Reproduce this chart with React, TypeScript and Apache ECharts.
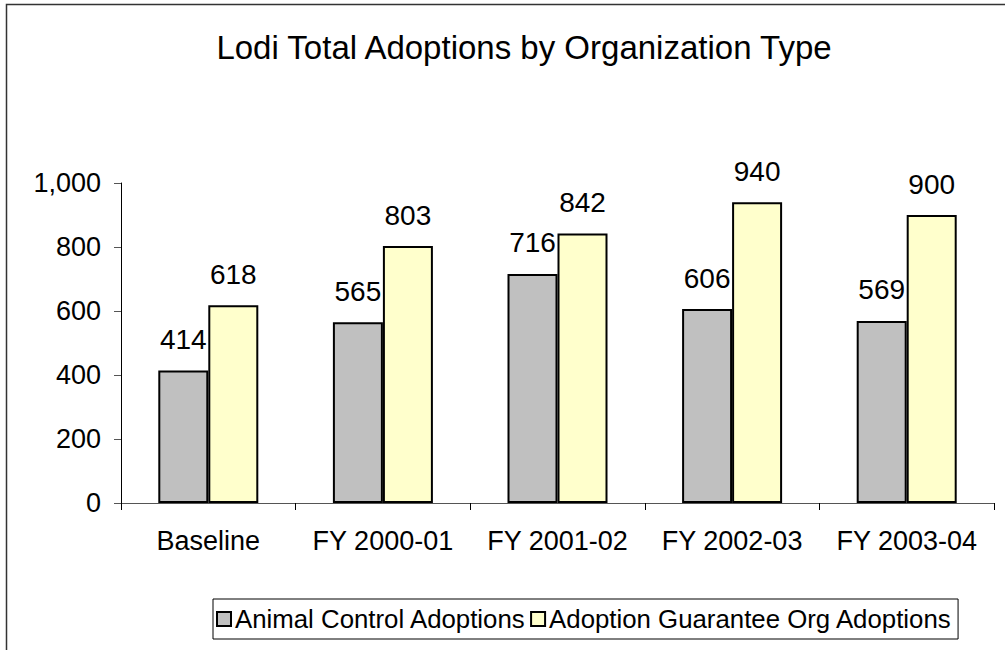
import React, { useEffect, useRef } from "react";
import * as echarts from "echarts";

const categories = ["Baseline", "FY 2000-01", "FY 2001-02", "FY 2002-03", "FY 2003-04"];
const animalControl = [414, 565, 716, 606, 569];
const guaranteeOrg = [618, 803, 842, 940, 900];
const seriesNames = ["Animal Control Adoptions", "Adoption Guarantee Org Adoptions"];
const titleText = "Lodi Total Adoptions by Organization Type";

const FONT = "'Liberation Sans', Arial, sans-serif";

export default function App() {
  const ref = useRef<HTMLDivElement>(null);
  useEffect(() => {
    if (!ref.current) return;
    const chart = echarts.init(ref.current, null, { renderer: "svg" });
    const labelStyle = {
      show: true,
      position: "top" as const,
      distance: 17,
      color: "#000",
      fontFamily: FONT,
      fontSize: 28,
    };
    chart.setOption({
      animation: false,
      backgroundColor: "#fff",
      textStyle: { fontFamily: FONT, color: "#000" },
      title: {
        text: titleText,
        left: 519,
        textAlign: "center",
        top: 26,
        textStyle: { fontFamily: FONT, fontSize: 33, fontWeight: "normal", color: "#000" },
      },
      graphic: [
        {
          type: "rect",
          shape: { x: 6.5, y: 4.5, width: 1200, height: 1000 },
          style: { fill: "none", stroke: "#333", lineWidth: 1.5 },
          silent: true,
          z: 100,
        },
      ],
      legend: {
        left: 213,
        top: 599,
        padding: [7, 6, 7, 3],
        itemWidth: 14,
        itemHeight: 14,
        itemGap: 4,
        borderColor: "#000",
        borderWidth: 1,
        icon: "rect",
        textStyle: { fontFamily: FONT, fontSize: 25.8, color: "#000", padding: [0, 0, 0, -1] },
        data: seriesNames,
      },
      grid: { left: 121, right: 11, top: 183, bottom: 147, containLabel: false },
      xAxis: {
        type: "category",
        data: categories,
        axisLine: { lineStyle: { color: "#555", width: 1 } },
        axisTick: { show: true, length: 7, lineStyle: { color: "#000" } },
        axisLabel: { color: "#000", fontFamily: FONT, fontSize: 27, margin: 24, interval: 0 },
      },
      yAxis: {
        type: "value",
        min: 0,
        max: 1000,
        interval: 200,
        splitLine: { show: false },
        axisLine: { show: true, lineStyle: { color: "#000", width: 1 } },
        axisTick: { show: true, length: 7, lineStyle: { color: "#555" } },
        axisLabel: {
          color: "#000",
          fontFamily: FONT,
          fontSize: 27,
          margin: 20,
          formatter: (v: number) => v.toLocaleString("en-US"),
        },
      },
      series: [
        {
          name: seriesNames[0],
          type: "bar",
          data: animalControl,
          barWidth: 50,
          barGap: "0%",
          itemStyle: { color: "#C0C0C0", borderColor: "#000", borderWidth: 2 },
          label: labelStyle,
        },
        {
          name: seriesNames[1],
          type: "bar",
          data: guaranteeOrg,
          barWidth: 50,
          barGap: "0%",
          itemStyle: { color: "#FFFFCC", borderColor: "#000", borderWidth: 2 },
          label: labelStyle,
        },
      ],
    });
    return () => chart.dispose();
  }, []);
  return (
    <div
      ref={ref}
      style={{ position: "absolute", left: 0, top: 0, width: 1005, height: 650 }}
    />
  );
}
